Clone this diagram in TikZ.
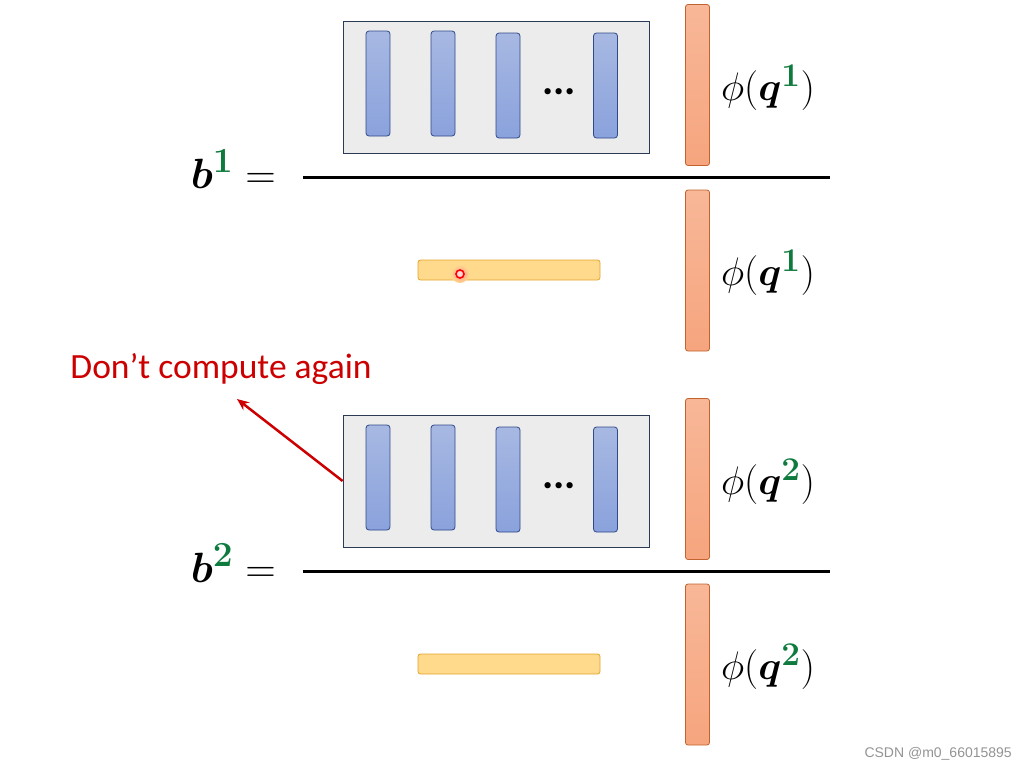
\documentclass[tikz,border=0pt]{standalone}
\usepackage{amsmath,bm}
\usepackage{fontspec}
\usetikzlibrary{arrows.meta}
\newfontfamily\carlito{Carlito}
\newfontfamily\wmfont{Liberation Sans}
\definecolor{boxfill}{HTML}{ECECEC}
\definecolor{boxborder}{HTML}{2B3A55}
\definecolor{bluetop}{HTML}{A7B8E2}
\definecolor{bluebot}{HTML}{8AA2DC}
\definecolor{blueborder}{HTML}{2F4A8A}
\definecolor{orfill}{HTML}{F6A57E}
\definecolor{orborder}{HTML}{C2622C}
\definecolor{yefill}{HTML}{FFD98C}
\definecolor{yeborder}{HTML}{E3A42A}
\definecolor{supgreen}{HTML}{0E7A3E}
\definecolor{noteRed}{HTML}{CC0000}
\newcommand{\philbl}[1]{\scalebox{1.6}{\Huge$\phi(\bm{q}^{\textcolor{supgreen}{\bm{#1}}})$}}
\newcommand{\blbl}[1]{\scalebox{1.7}{\Huge$\bm{b}^{\textcolor{supgreen}{\bm{#1}}} =$}}
\begin{document}
\begin{tikzpicture}[x=1pt,y=-1pt,
  graybox/.style={draw=boxborder, fill=boxfill, line width=0.8pt, minimum width=306pt, minimum height=132pt, inner sep=0pt},
  bluebar/.style={draw=blueborder, top color=bluetop, bottom color=bluebot, rounded corners=3pt, minimum width=24pt, minimum height=105pt, inner sep=0pt, line width=0.8pt},
  orbar/.style={draw=orborder, top color=orfill!80!white, bottom color=orfill, rounded corners=2.5pt, minimum width=24pt, minimum height=161pt, inner sep=0pt, line width=0.8pt},
  yebar/.style={draw=yeborder, fill=yefill, rounded corners=2.5pt, minimum width=182pt, minimum height=20pt, inner sep=0pt, line width=0.8pt},
  rule/.style={line width=3pt, black},
  mathlbl/.style={inner sep=0pt},
  dotslbl/.style={inner sep=0pt, font=\carlito\bfseries\fontsize{42}{48}\selectfont},
  note/.style={inner sep=0pt, text=noteRed, font=\carlito\fontsize{35.5}{40}\selectfont},
  notearrow/.style={draw=noteRed, line width=2.5pt, -{Stealth[length=12pt,width=10pt]}},
]
\useasboundingbox (0,0) rectangle (1025,774);

\foreach \d/\s in {0/1, 394/2} {
  \node[graybox] (box\s) at (496, 87+\d) {};
  \node[bluebar] (ba\s) at (378, 83.5+\d) {};
  \node[bluebar] (bb\s) at (443, 83.5+\d) {};
  \node[bluebar] (bc\s) at (508, 85.5+\d) {};
  \node[bluebar] (bd\s) at (605.5, 85.5+\d) {};
  \node[dotslbl, anchor=base] (dots\s) at (559, 94+\d) {...};
  \node[orbar] (ot\s) at (697.5, 85+\d) {};
  \node[orbar] (ob\s) at (697.5, 270.5+\d) {};
  \coordinate (rl\s) at (303, 177+\d);
  \coordinate (rr\s) at (830, 177+\d);
  \draw[rule] (rl\s) -- (rr\s);
  \node[yebar] (ye\s) at (509, 270+\d) {};
  \node[mathlbl] (pt\s) at (768, 88+\d) {\philbl{\s}};
  \node[mathlbl] (pb\s) at (768, 273+\d) {\philbl{\s}};
  \node[mathlbl, anchor=base east] (b\s) at (276, 188+\d) {\blbl{\s}};
}

\shade[inner color=red!45, outer color=yefill] (460, 274) circle (9pt);
\node[circle, draw=red, fill=red!15, line width=1.6pt, minimum size=8pt, inner sep=0pt] (cursor) at (460, 274) {};

\node[note] (note) at (221, 369) {Don’t compute again};
\coordinate (tip) at (237, 399);
\draw[notearrow] (box2.west) -- (tip);

\node[anchor=east, inner sep=0pt, text=gray!85, font=\wmfont\fontsize{14}{16}\selectfont] (wm) at (1012, 754) {CSDN @m0\_66015895};
\end{tikzpicture}
\end{document}
